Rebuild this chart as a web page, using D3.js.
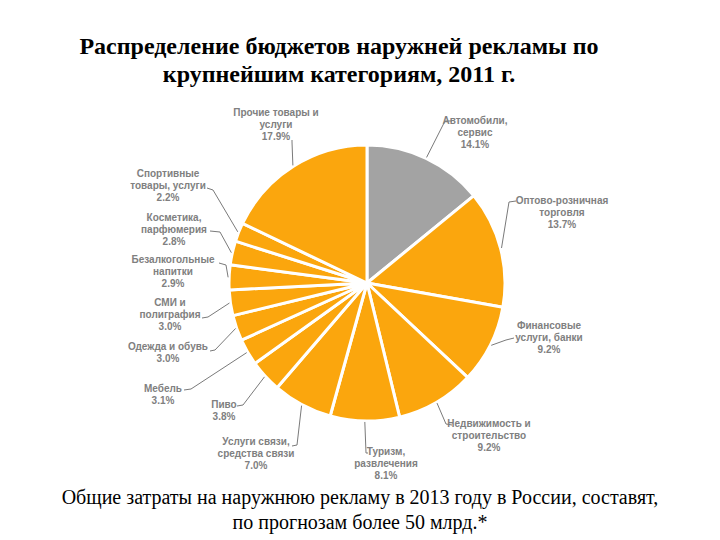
<!DOCTYPE html>
<html><head><meta charset="utf-8">
<script src="https://cdn.jsdelivr.net/npm/d3@7"></script>
<style>
html,body{margin:0;padding:0;background:#fff;}
svg{display:block;}
</style></head>
<body>
<svg id="chart" width="720" height="540"></svg>
<script>
// ---- data ----
const categories = [
  ["Автомобили,", "сервис"],
  ["Оптово-розничная", "торговля"],
  ["Финансовые", "услуги, банки"],
  ["Недвижимость и", "строительство"],
  ["Туризм,", "развлечения"],
  ["Услуги связи,", "средства связи"],
  ["Пиво"],
  ["Мебель"],
  ["Одежда и обувь"],
  ["СМИ и", "полиграфия"],
  ["Безалкогольные", "напитки"],
  ["Косметика,", "парфюмерия"],
  ["Спортивные", "товары, услуги"],
  ["Прочие товары и", "услуги"]
];
const values = [14.1, 13.7, 9.2, 9.2, 8.1, 7.0, 3.8, 3.1, 3.0, 3.0, 2.9, 2.8, 2.2, 17.9];
const valueLabels = values.map(v => v.toFixed(1) + "%");
const titleLines = ["Распределение бюджетов наружней рекламы по", "крупнейшим категориям, 2011 г."];
const footLines = ["Общие затраты на наружнюю рекламу в 2013 году в России, составят,", "по прогнозам более 50 млрд.*"];

// ---- layout (label placement) ----
const cx = 367, cy = 283, R = 138;
const labelLayout = [
  {x: 475, y: 124, elbow: [445, 121], end: [452, 121]},
  {x: 562, y: 204, elbow: [509, 202], end: [516, 201]},
  {x: 549, y: 329, elbow: [506, 340], end: [514, 338]},
  {x: 489, y: 427, elbow: [446, 424], end: [452, 425]},
  {x: 386, y: 455, elbow: [366, 453], end: [368, 453]},
  {x: 256, y: 445, elbow: [297, 445], end: [292, 446]},
  {x: 224, y: 408, elbow: [243, 405], end: [237, 406]},
  {x: 163, y: 392, elbow: [191, 389], end: [184, 390]},
  {x: 168, y: 350, elbow: [215, 350], end: [210, 351]},
  {x: 170, y: 306, elbow: [208, 317], end: [202, 318]},
  {x: 173, y: 263, elbow: [226, 265], end: [219, 263]},
  {x: 174, y: 221, elbow: [220, 232], end: [210, 231]},
  {x: 168, y: 177, elbow: [213, 190], end: [207, 188]},
  {x: 276, y: 116, elbow: [292, 142], end: [292, 140]}
];

const svg = d3.select("#chart");

// title
svg.append("g").selectAll("text").data(titleLines).join("text")
  .attr("x", 339).attr("y", (d, i) => 54 + i * 28)
  .attr("text-anchor", "middle")
  .style("font-family", "'Liberation Serif','Times New Roman',serif")
  .style("font-weight", "bold").style("font-size", "24px").style("fill", "#000")
  .text(d => d);

// footer
svg.append("g").selectAll("text").data(footLines).join("text")
  .attr("x", 360).attr("y", (d, i) => 504 + i * 24.5)
  .attr("text-anchor", "middle")
  .style("font-family", "'Liberation Serif','Times New Roman',serif")
  .style("font-size", "20px").style("fill", "#000")
  .text(d => d);

// pie
const pie = d3.pie().sort(null).value(d => d);
const arcs = pie(values);
const arc = d3.arc().innerRadius(0).outerRadius(R);
const g = svg.append("g").attr("transform", `translate(${cx},${cy})`);
g.selectAll("path").data(arcs).join("path")
  .attr("d", arc)
  .attr("fill", (d, i) => i === 0 ? "#a3a3a3" : "#fba60d")
  .attr("stroke", "#fff").attr("stroke-width", 3).attr("stroke-linejoin", "round");

// leader lines
const mid = d => (d.startAngle + d.endAngle) / 2;
svg.append("g").selectAll("path").data(arcs).join("path")
  .attr("d", (d, i) => {
    const a = mid(d);
    const p = [cx + (R + 1) * Math.sin(a), cy - (R + 1) * Math.cos(a)];
    const L = labelLayout[i];
    return d3.line()([p, L.elbow, L.end]);
  })
  .attr("fill", "none").attr("stroke", "#7a7a7a").attr("stroke-width", 1);

// labels
const lg = svg.append("g");
arcs.forEach((d, i) => {
  const L = labelLayout[i];
  const lines = categories[i].concat([valueLabels[i]]);
  const t = lg.append("text")
    .attr("text-anchor", "middle")
    .style("font-family", "'Liberation Sans',Arial,sans-serif")
    .style("font-weight", "bold").style("font-size", "10px").style("fill", "#808080");
  lines.forEach((s, k) => {
    t.append("tspan").attr("x", L.x).attr("y", L.y + k * 11.8).text(s);
  });
});
</script>
</body></html>
